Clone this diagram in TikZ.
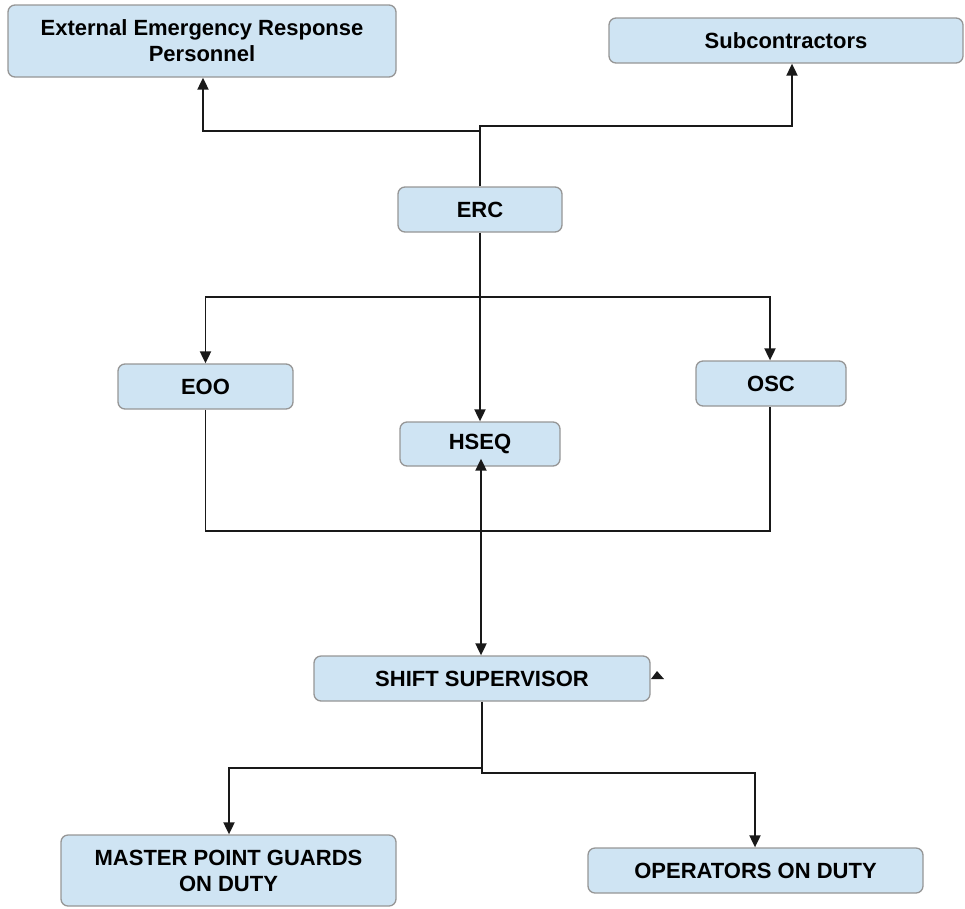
\documentclass[tikz,border=0pt]{standalone}
\usepackage{fontspec}
\setmainfont{Liberation Sans}
\usetikzlibrary{arrows.meta}
\definecolor{boxfill}{RGB}{207,228,243}
\definecolor{boxline}{RGB}{150,150,150}
\definecolor{linecol}{RGB}{25,25,25}
\tikzset{
  orgbox/.style={draw=boxline, line width=1.3pt, fill=boxfill, rounded corners=7pt,
    align=center, inner sep=0pt, font=\fontsize{22}{26}\selectfont\bfseries, text=black},
  conn/.style={draw=linecol, line width=1.9pt},
  arr/.style={conn, -{Triangle[length=12pt,width=11pt]}}
}
\begin{document}
\begin{tikzpicture}[x=1pt,y=-1pt]
\useasboundingbox (0,0) rectangle (965,908);
\node[orgbox, minimum width=388pt, minimum height=72pt] (ext) at (202,41) {External Emergency Response\\Personnel};
\node[orgbox, minimum width=354pt, minimum height=45pt] (sub) at (786,40.5) {Subcontractors};
\node[orgbox, minimum width=164pt, minimum height=45pt] (erc) at (480,209.5) {ERC};
\node[orgbox, minimum width=175pt, minimum height=45pt] (eoo) at (205.5,386.5) {EOO};
\node[orgbox, minimum width=150pt, minimum height=45pt] (osc) at (771,383.5) {OSC};
\node[orgbox, minimum width=160pt, minimum height=44pt] (hseq) at (480,444) {HSEQ};
\node[orgbox, minimum width=336pt, minimum height=45pt] (shift) at (482,678.5) {SHIFT SUPERVISOR};
\node[orgbox, minimum width=335pt, minimum height=71pt] (master) at (228.5,870.5) {MASTER POINT GUARDS\\ON DUTY};
\node[orgbox, minimum width=335pt, minimum height=45pt] (oper) at (755.5,870.5) {OPERATORS ON DUTY};

% top
\coordinate (jt) at (480,126);
\coordinate (jl) at (480,131);
\draw[arr] (erc.north) -- (jt) -| ([xshift=6pt]sub.south);
\draw[arr] (jl) -| ([xshift=1pt]ext.south);
% middle
\coordinate (jm) at (480,297);
\draw[conn] (erc.south) -- (jm);
\draw[arr] (jm) -| (eoo.north);
\draw[arr] (jm) -| ([xshift=-1pt]osc.north);
\draw[arr] (jm) -- (hseq.north);
% loop
\coordinate (jb) at (481,531);
\draw[conn] (eoo.south) |- (jb) -| ([xshift=-1pt]osc.south);
\draw[arr] (jb) -- ([xshift=1pt,yshift=8pt]hseq.south);
\draw[arr] (jb) -- (shift.north -| jb);
% bottom
\coordinate (jr) at (482,773);
\coordinate (jl2) at (482,768);
\draw[arr] (shift.south) -- (jr) -| ([xshift=-0.5pt]oper.north);
\draw[arr] (jl2) -| ([xshift=0.5pt]master.north);
% stray arrowhead
\fill[linecol] (651,679) -- (664,679) -- (657,671) -- cycle;
\end{tikzpicture}
\end{document}
